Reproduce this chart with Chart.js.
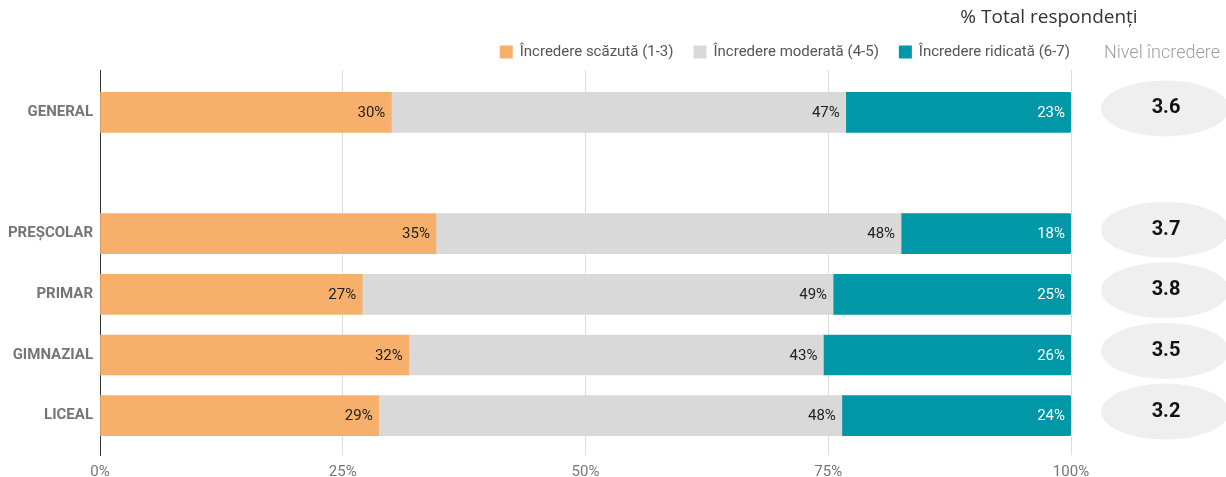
<!DOCTYPE html>
<html><head><meta charset="utf-8">
<script src="https://cdn.jsdelivr.net/npm/chart.js@4"></script>
<style>html,body{margin:0;padding:0;background:#fff}</style>
</head><body><canvas id="c" width="1226" height="477"></canvas>
<script>
const categories = ['GENERAL', '', 'PREȘCOLAR', 'PRIMAR', 'GIMNAZIAL', 'LICEAL'];
const seriesNames = ['Încredere scăzută (1-3)', 'Încredere moderată (4-5)', 'Încredere ridicată (6-7)'];
const lowValues = [30.0, null, 34.6, 27.0, 31.8, 28.7];
const modValues = [46.8, null, 47.9, 48.5, 42.7, 47.7];
const highValues = [23.2, null, 17.5, 24.5, 25.5, 23.6];
const levelValues = [3.6, null, 3.7, 3.8, 3.5, 3.2];
const xTicks = [0, 25, 50, 75, 100];
const titleText = '% Total respondenți';
const levelTitle = 'Nivel încredere';

const toPoints = arr => arr.map((v, i) => v == null ? null : { x: v, y: i }).filter(p => p);

const labelPlugin = {
  id: 'barLabels',
  afterDatasetsDraw(chart) {
    const ctx = chart.ctx;
    ctx.save();
    ctx.font = '15px Roboto';
    ctx.textAlign = 'right';
    ctx.textBaseline = 'middle';
    chart.data.datasets.forEach((ds, di) => {
      const meta = chart.getDatasetMeta(di);
      ctx.fillStyle = ds.labelColor;
      meta.data.forEach((el, j) => {
        const v = ds.data[j].x;
        ctx.fillText(Math.round(v) + '%', el.x - 6, el.y + 1);
      });
    });
    ctx.restore();
  }
};

const extrasPlugin = {
  id: 'extras',
  afterDraw(chart) {
    const ctx = chart.ctx;
    const area = chart.chartArea;
    const yScale = chart.scales.y;
    const cx = area.right + 94;
    ctx.save();
    ctx.fillStyle = '#333';
    ctx.font = '19px "Open Sans"';
    ctx.textAlign = 'center';
    ctx.textBaseline = 'middle';
    ctx.fillText(titleText, area.right - 22, 18);
    ctx.fillStyle = '#9e9e9e';
    ctx.font = '300 18px Roboto';
    ctx.fillText(levelTitle, cx - 3, 53);
    levelValues.forEach((v, i) => {
      if (v == null) return;
      const y = yScale.getPixelForValue(i) - 4;
      ctx.beginPath();
      ctx.ellipse(cx, y, 64, 28, 0, 0, Math.PI * 2);
      ctx.fillStyle = '#efefef';
      ctx.fill();
      ctx.fillStyle = '#111';
      ctx.font = 'bold 20px Roboto';
      ctx.fillText(v.toFixed(1), cx + 1, y);
    });
    ctx.font = '15px Roboto';
    ctx.textAlign = 'left';
    const box = 13, gap = 7, itemGap = 20;
    const items = chart.data.datasets.map(ds => ({ text: ds.label, color: ds.backgroundColor, w: ctx.measureText(ds.label).width }));
    let total = items.reduce((s, it) => s + box + gap + it.w, 0) + itemGap * (items.length - 1);
    let x = area.right - 1 - total;
    const ly = 52;
    items.forEach(it => {
      ctx.fillStyle = it.color;
      ctx.fillRect(x, ly - box / 2, box, box);
      ctx.fillStyle = '#555';
      ctx.fillText(it.text, x + box + gap, ly);
      x += box + gap + it.w + itemGap;
    });
    ctx.restore();
  }
};

new Chart(document.getElementById('c'), {
  type: 'bar',
  data: {
    datasets: [
      { label: seriesNames[0], data: toPoints(lowValues), backgroundColor: '#F6B06B', labelColor: '#222' },
      { label: seriesNames[1], data: toPoints(modValues), backgroundColor: '#D9D9D9', labelColor: '#222' },
      { label: seriesNames[2], data: toPoints(highValues), backgroundColor: '#0097A7', labelColor: '#ffffff', borderRadius: 2 }
    ]
  },
  options: {
    indexAxis: 'y',
    responsive: false,
    animation: false,
    devicePixelRatio: 1,
    barThickness: 40,
    layout: { padding: { top: 70, right: 155, bottom: 0, left: 0 } },
    plugins: { legend: { display: false }, title: { display: false }, tooltip: { enabled: false } },
    scales: {
      x: {
        type: 'linear', stacked: true, min: 0, max: 100, position: 'bottom',
        afterBuildTicks: s => { s.ticks = xTicks.map(v => ({ value: v })); },
        afterFit: s => { s.height = 22; },
        ticks: { callback: v => v + '%', color: '#757575', font: { family: 'Roboto', size: 15 }, padding: 8 },
        grid: { color: '#dddddd', lineWidth: 1, drawTicks: false },
        border: { display: false }
      },
      y: {
        type: 'linear', stacked: true, reverse: true, offset: false, min: -0.7, max: 5.65,
        afterBuildTicks: s => { s.ticks = categories.map((c, i) => ({ value: i })).filter(t => categories[t.value]); },
        afterFit: s => { s.width = 100; },
        ticks: { autoSkip: false, callback: v => categories[v], color: '#757575', font: { family: 'Roboto', size: 15, weight: 'bold' }, padding: 7 },
        grid: { display: false, drawTicks: false, offset: false },
        border: { display: true, color: '#333', width: 1 }
      }
    }
  },
  plugins: [labelPlugin, extrasPlugin]
});
</script>
</body></html>
